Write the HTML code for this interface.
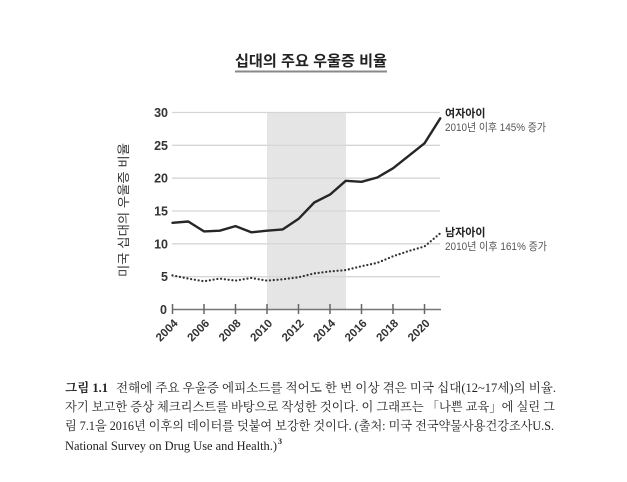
<!DOCTYPE html>
<html>
<head>
<meta charset="utf-8">
<style>
  html,body{margin:0;padding:0;background:#fff;}
  svg{display:block;}
  .sans{font-family:"Liberation Sans","Noto Sans CJK KR",sans-serif;}
  .serif{font-family:"Liberation Serif","Noto Serif CJK SC",serif;}
</style>
</head>
<body>
<svg width="627" height="482" viewBox="0 0 627 482" xmlns="http://www.w3.org/2000/svg">
  <rect x="0" y="0" width="627" height="482" fill="#fff"/>

  <!-- Title -->
  <text class="sans" x="235" y="66" font-size="15" font-weight="bold" fill="#222" textLength="152" lengthAdjust="spacingAndGlyphs">십대의 주요 우울증 비율</text>
  <line x1="235" y1="71.5" x2="387" y2="71.5" stroke="#888" stroke-width="2"/>

  <!-- shaded region 2010-2015 -->
  <rect x="267" y="112.5" width="79" height="197" fill="#e5e5e5"/>

  <!-- gridlines -->
  <g stroke="#d6d6d6" stroke-width="1.3">
    <line x1="172" y1="112.5" x2="440" y2="112.5"/>
    <line x1="172" y1="145.3" x2="440" y2="145.3"/>
    <line x1="172" y1="178.2" x2="440" y2="178.2"/>
    <line x1="172" y1="211" x2="440" y2="211"/>
    <line x1="172" y1="243.8" x2="440" y2="243.8"/>
    <line x1="172" y1="276.7" x2="440" y2="276.7"/>
  </g>

  <!-- x axis -->
  <line x1="172" y1="309.5" x2="441" y2="309.5" stroke="#777" stroke-width="1.6"/>
  <g stroke="#666" stroke-width="1.5">
    <line x1="172.5" y1="304" x2="172.5" y2="314"/>
    <line x1="204" y1="304" x2="204" y2="314"/>
    <line x1="235.5" y1="304" x2="235.5" y2="314"/>
    <line x1="267" y1="304" x2="267" y2="314"/>
    <line x1="298.5" y1="304" x2="298.5" y2="314"/>
    <line x1="330" y1="304" x2="330" y2="314"/>
    <line x1="361.5" y1="304" x2="361.5" y2="314"/>
    <line x1="393" y1="304" x2="393" y2="314"/>
    <line x1="424.5" y1="304" x2="424.5" y2="314"/>
  </g>

  <!-- y tick labels -->
  <g class="sans" font-size="12.5" font-weight="bold" fill="#333" text-anchor="end">
    <text x="168" y="117">30</text>
    <text x="168" y="149.8">25</text>
    <text x="168" y="182.7">20</text>
    <text x="168" y="215.5">15</text>
    <text x="168" y="248.3">10</text>
    <text x="168" y="281.2">5</text>
    <text x="167" y="314">0</text>
  </g>

  <!-- x tick labels -->
  <g class="sans" font-size="11.5" font-weight="bold" fill="#333" text-anchor="end">
    <text transform="translate(178.5,324) rotate(-45)">2004</text>
    <text transform="translate(210,324) rotate(-45)">2006</text>
    <text transform="translate(241.5,324) rotate(-45)">2008</text>
    <text transform="translate(273,324) rotate(-45)">2010</text>
    <text transform="translate(304.5,324) rotate(-45)">2012</text>
    <text transform="translate(336,324) rotate(-45)">2014</text>
    <text transform="translate(367.5,324) rotate(-45)">2016</text>
    <text transform="translate(399,324) rotate(-45)">2018</text>
    <text transform="translate(430.5,324) rotate(-45)">2020</text>
  </g>

  <!-- y axis label -->
  <text class="sans" transform="translate(128,210) rotate(-90)" font-size="12.5" fill="#333" text-anchor="middle" textLength="134" lengthAdjust="spacingAndGlyphs">미국 십대의 우울증 비율</text>

  <!-- female line -->
  <polyline fill="none" stroke="#262626" stroke-width="2.4" stroke-linejoin="round" stroke-linecap="round"
    points="172.5,222.8 188.25,221.5 204,231.4 219.75,230.7 235.5,226.1 251.25,232.3 267,230.7 282.75,229.4 298.5,218.9 314.25,202.5 330,194.6 345.75,180.8 361.5,181.8 377.25,177.5 393,168.3 408.75,155.8 424.5,143.3 440.25,118.4"/>

  <!-- male line (dotted) -->
  <polyline fill="none" stroke="#333" stroke-width="2.3" stroke-linecap="round" stroke-dasharray="0 3.8"
    points="172.5,275.4 188.25,278.6 204,281.3 219.75,278.6 235.5,280.6 251.25,278 267,280.6 282.75,279.3 298.5,277.3 314.25,273.4 330,271.4 345.75,270.1 361.5,266.2 377.25,262.9 393,256.3 408.75,251 424.5,246.5 440.25,233.3"/>

  <!-- annotations -->
  <text class="sans" x="445" y="117" font-size="11" font-weight="bold" fill="#222">여자아이</text>
  <text class="sans" x="445" y="131" font-size="11" fill="#555" textLength="101" lengthAdjust="spacingAndGlyphs">2010년 이후 145% 증가</text>
  <text class="sans" x="445" y="236" font-size="11" font-weight="bold" fill="#222">남자아이</text>
  <text class="sans" x="445" y="250" font-size="11" fill="#555" textLength="102" lengthAdjust="spacingAndGlyphs">2010년 이후 161% 증가</text>

  <!-- caption -->
  <g class="serif" font-size="12.5" fill="#222">
    <text x="65" y="392" font-weight="bold" textLength="43" lengthAdjust="spacingAndGlyphs">그림 1.1</text>
    <text x="116" y="392" textLength="440" lengthAdjust="spacingAndGlyphs">전해에 주요 우울증 에피소드를 적어도 한 번 이상 겪은 미국 십대(12~17세)의 비율.</text>
    <text x="65" y="411" textLength="490" lengthAdjust="spacingAndGlyphs">자기 보고한 증상 체크리스트를 바탕으로 작성한 것이다. 이 그래프는 「나쁜 교육」에 실린 그</text>
    <text x="65" y="430" textLength="489" lengthAdjust="spacingAndGlyphs">림 7.1을 2016년 이후의 데이터를 덧붙여 보강한 것이다. (출처: 미국 전국약물사용건강조사U.S.</text>
    <text x="65" y="450" textLength="212" lengthAdjust="spacingAndGlyphs">National Survey on Drug Use and Health.)</text>
    <text x="278" y="444" font-size="8" font-weight="bold">3</text>
  </g>
</svg>
</body>
</html>
